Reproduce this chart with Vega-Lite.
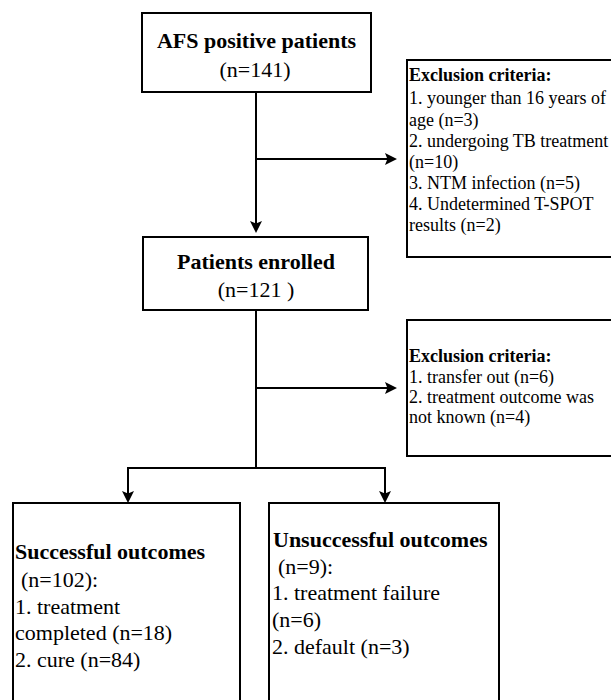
{
  "$schema": "https://vega.github.io/schema/vega-lite/v6.json",
  "width": 611,
  "height": 700,
  "padding": 0,
  "autosize": {"type": "none"},
  "background": "white",
  "config": {"view": {"stroke": null}},
  "encoding": {
    "x": {"field": "x", "type": "quantitative", "scale": {"domain": [0, 611], "nice": false, "zero": false}, "axis": null},
    "y": {"field": "y", "type": "quantitative", "scale": {"domain": [0, 700], "nice": false, "zero": false, "reverse": true}, "axis": null}
  },
  "layer": [
    {
      "data": {"values": [
        {"box": "AFS positive patients", "x": 142, "x2": 371, "y": 13, "y2": 92},
        {"box": "Patients enrolled", "x": 143, "x2": 368, "y": 237, "y2": 310},
        {"box": "Exclusion criteria 1", "x": 407, "x2": 640, "y": 60, "y2": 257},
        {"box": "Exclusion criteria 2", "x": 407, "x2": 640, "y": 320, "y2": 456},
        {"box": "Successful outcomes", "x": 13, "x2": 240, "y": 503, "y2": 730},
        {"box": "Unsuccessful outcomes", "x": 269, "x2": 499, "y": 503, "y2": 730}
      ]},
      "mark": {"type": "rect", "fill": "white", "stroke": "black", "strokeWidth": 2},
      "encoding": {"x2": {"field": "x2"}, "y2": {"field": "y2"}}
    },
    {
      "data": {"values": [
        {"x": 256, "y": 92, "x2": 256, "y2": 228},
        {"x": 256, "y": 159, "x2": 392, "y2": 159},
        {"x": 256, "y": 310, "x2": 256, "y2": 468},
        {"x": 256, "y": 388, "x2": 392, "y2": 388},
        {"x": 127, "y": 468, "x2": 386, "y2": 468},
        {"x": 128, "y": 467, "x2": 128, "y2": 498},
        {"x": 385, "y": 467, "x2": 385, "y2": 498}
      ]},
      "mark": {"type": "rule", "color": "black", "strokeWidth": 2},
      "encoding": {"x2": {"field": "x2"}, "y2": {"field": "y2"}}
    },
    {
      "data": {"values": [
        {"x": 256, "y": 233},
        {"x": 128, "y": 503},
        {"x": 385, "y": 503}
      ]},
      "mark": {"type": "point", "filled": true, "color": "black", "opacity": 1, "size": 144, "shape": "M0,0 L-1,-2 L0,-1.6 L1,-2 Z", "strokeWidth": 0}
    },
    {
      "data": {"values": [
        {"x": 397, "y": 159},
        {"x": 397, "y": 388}
      ]},
      "mark": {"type": "point", "filled": true, "color": "black", "opacity": 1, "size": 144, "shape": "M0,0 L-2,-1 L-1.6,0 L-2,1 Z", "strokeWidth": 0}
    },
    {
      "data": {"values": [
        {"x": 256.5, "y": 41, "text": "AFS positive patients"},
        {"x": 256, "y": 262, "text": "Patients enrolled"}
      ]},
      "mark": {"type": "text", "font": "Liberation Serif", "fontSize": 22, "fontWeight": "bold", "align": "center", "baseline": "middle", "color": "black"},
      "encoding": {"text": {"field": "text"}}
    },
    {
      "data": {"values": [
        {"x": 255, "y": 70, "text": "(n=141)"},
        {"x": 256, "y": 290, "text": "(n=121 )"}
      ]},
      "mark": {"type": "text", "font": "Liberation Serif", "fontSize": 22, "align": "center", "baseline": "middle", "color": "black"},
      "encoding": {"text": {"field": "text"}}
    },
    {
      "data": {"values": [
        {"x": 409, "y": 76, "text": "Exclusion criteria:"},
        {"x": 409, "y": 357, "text": "Exclusion criteria:"}
      ]},
      "mark": {"type": "text", "font": "Liberation Serif", "fontSize": 18, "fontWeight": "bold", "align": "left", "baseline": "middle", "color": "black"},
      "encoding": {"text": {"field": "text"}}
    },
    {
      "data": {"values": [
        {"x": 409, "y": 99, "text": "1. younger than 16 years of"},
        {"x": 409, "y": 121, "text": "age (n=3)"},
        {"x": 409, "y": 142, "text": "2. undergoing TB treatment"},
        {"x": 409, "y": 163, "text": "(n=10)"},
        {"x": 409, "y": 184, "text": "3. NTM infection (n=5)"},
        {"x": 409, "y": 205, "text": "4. Undetermined T-SPOT"},
        {"x": 409, "y": 226, "text": "results (n=2)"},
        {"x": 409, "y": 378, "text": "1. transfer out (n=6)"},
        {"x": 409, "y": 398, "text": "2. treatment outcome was"},
        {"x": 409, "y": 418, "text": "not known (n=4)"}
      ]},
      "mark": {"type": "text", "font": "Liberation Serif", "fontSize": 18, "align": "left", "baseline": "middle", "color": "black"},
      "encoding": {"text": {"field": "text"}}
    },
    {
      "data": {"values": [
        {"x": 15, "y": 552, "text": "Successful outcomes"},
        {"x": 273, "y": 540, "text": "Unsuccessful outcomes"}
      ]},
      "mark": {"type": "text", "font": "Liberation Serif", "fontSize": 22, "fontWeight": "bold", "align": "left", "baseline": "middle", "color": "black"},
      "encoding": {"text": {"field": "text"}}
    },
    {
      "data": {"values": [
        {"x": 21, "y": 580, "text": "(n=102):"},
        {"x": 15, "y": 607, "text": "1. treatment"},
        {"x": 15, "y": 633, "text": "completed (n=18)"},
        {"x": 15, "y": 660, "text": "2. cure (n=84)"},
        {"x": 278, "y": 567, "text": "(n=9):"},
        {"x": 272, "y": 593, "text": "1. treatment failure"},
        {"x": 272, "y": 620, "text": "(n=6)"},
        {"x": 272, "y": 647, "text": "2. default (n=3)"}
      ]},
      "mark": {"type": "text", "font": "Liberation Serif", "fontSize": 22, "align": "left", "baseline": "middle", "color": "black"},
      "encoding": {"text": {"field": "text"}}
    }
  ]
}
